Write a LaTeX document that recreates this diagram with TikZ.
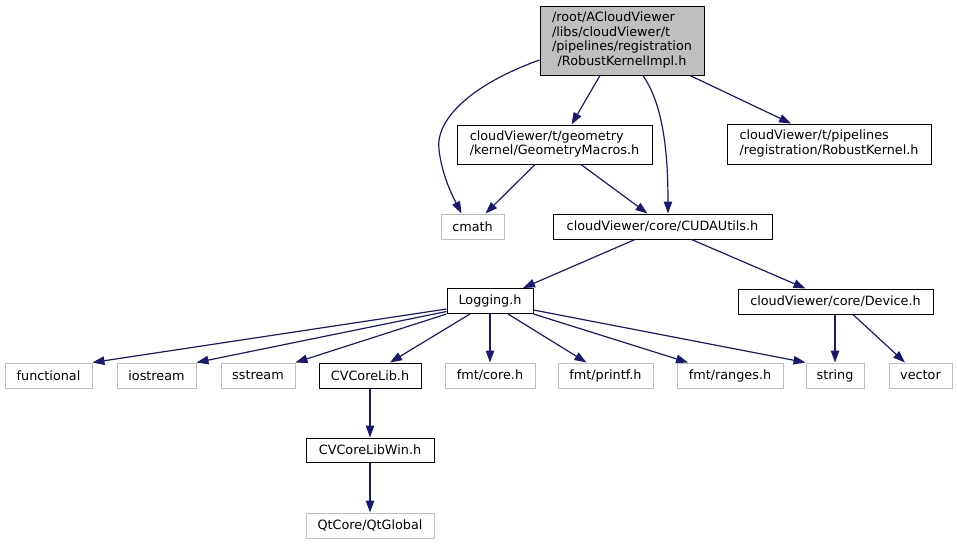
\documentclass[tikz,border=0pt]{standalone}
\usepackage{fontspec}
\setmainfont{DejaVu Sans}
\usetikzlibrary{arrows.meta,calc}
\definecolor{boxgray}{RGB}{191,191,191}
\definecolor{edgeblue}{RGB}{25,25,112}
\tikzset{
  base/.style={rectangle, inner sep=0pt, line width=1pt, font=\fontsize{12.8}{14.7}\selectfont},
  bbox/.style={base, draw=black},
  gbox/.style={base, draw=boxgray},
  rootbox/.style={base, draw=black, fill=boxgray},
  dep/.style={draw=edgeblue, line width=1.2pt, -{Triangle[length=12pt,width=8.5pt]}},
}
\begin{document}
\begin{tikzpicture}[x=1pt,y=-1pt]
\useasboundingbox (0,0) rectangle (957,544);
% nodes
\node[rootbox, minimum width=164pt, minimum height=69pt] (top) at (622,40.5)
  {\begin{tabular}{@{}l@{}}/root/ACloudViewer\\/libs/cloudViewer/t\\/pipelines/registration\\\multicolumn{1}{@{}c@{}}{/RobustKernelImpl.h}\end{tabular}};
\node[bbox, minimum width=195pt, minimum height=39pt] (geo) at (554.5,144.5)
  {\begin{tabular}{@{}l@{}}cloudViewer/t/geometry\\\multicolumn{1}{@{}c@{}}{/kernel/GeometryMacros.h}\end{tabular}};
\node[bbox, minimum width=204pt, minimum height=40pt] (robust) at (829,144)
  {\begin{tabular}{@{}l@{}}cloudViewer/t/pipelines\\\multicolumn{1}{@{}c@{}}{/registration/RobustKernel.h}\end{tabular}};
\node[gbox, minimum width=63pt, minimum height=25pt] (cmath) at (472.5,226.5) {cmath};
\node[bbox, minimum width=219pt, minimum height=25pt] (cuda) at (662.5,226.5) {cloudViewer/core/CUDAUtils.h};
\node[bbox, minimum width=86pt, minimum height=25pt] (logging) at (490,301) {Logging.h};
\node[bbox, minimum width=195pt, minimum height=25pt] (device) at (835.5,301.5) {cloudViewer/core/Device.h};
\node[gbox, minimum width=87pt, minimum height=25pt] (functional) at (48.5,375.5) {functional};
\node[gbox, minimum width=79pt, minimum height=25pt] (iostream) at (156.5,375.5) {iostream};
\node[gbox, minimum width=74pt, minimum height=25pt] (sstream) at (258,375.5) {sstream};
\node[bbox, minimum width=102pt, minimum height=25pt] (cvcore) at (370,375.5) {CVCoreLib.h};
\node[gbox, minimum width=90pt, minimum height=25pt] (fmtcore) at (490,375.5) {fmt/core.h};
\node[gbox, minimum width=95pt, minimum height=25pt] (printf) at (605.5,375.5) {fmt/printf.h};
\node[gbox, minimum width=106pt, minimum height=25pt] (ranges) at (730,375.5) {fmt/ranges.h};
\node[gbox, minimum width=58pt, minimum height=25pt] (string) at (835,375.5) {string};
\node[gbox, minimum width=63pt, minimum height=25pt] (vector) at (920.5,375.5) {vector};
\node[bbox, minimum width=128pt, minimum height=24pt] (cvwin) at (370,450) {CVCoreLibWin.h};
\node[gbox, minimum width=128pt, minimum height=25pt] (qt) at (370,525.5) {QtCore/QtGlobal};
% edges
\draw[dep] ($(top.south)+(-22,0)$) -- ($(geo.north)+(17,0)$);
\draw[dep] ($(top.south)+(68,0)$) -- ($(robust.north)+(-38,0)$);
\draw[dep] ($(top.south)+(21,0)$) .. controls ($(top.south)+(38,25)$) and ($(cuda.north)+(5.5,-74)$) .. ($(cuda.north)+(5.5,0)$);
\draw[dep] ($(top.west)+(0,19.5)$) .. controls (470,85) and (435,120) .. (439,150) .. controls (442,175) and (452,195) .. ($(cmath.north)+(-11,0)$);
\draw[dep] ($(geo.south)+(-19.5,0)$) -- ($(cmath.north)+(13,0)$);
\draw[dep] ($(geo.south)+(26.5,0)$) -- ($(cuda.north)+(-15,0)$);
\draw[dep] ($(cuda.south)+(-27.5,0)$) -- ($(logging.north)+(33,0)$);
\draw[dep] ($(cuda.south)+(29,0)$) -- ($(device.north)+(-30,0)$);
\draw[dep] ($(device.south)+(-0.5,0)$) -- (string.north);
\draw[dep] ($(device.south)+(17.5,0)$) -- ($(vector.north)+(-15.5,0)$);
\draw[dep] ($(logging.west)+(0,8)$) -- (functional.north east);
\draw[dep] ($(logging.west)+(0,10.5)$) -- (iostream.north east);
\draw[dep] (logging.south west) -- (sstream.north east);
\draw[dep] ($(logging.south)+(-20,0)$) -- ($(cvcore.north)+(20,0)$);
\draw[dep] (logging.south) -- (fmtcore.north);
\draw[dep] ($(logging.south)+(18,0)$) -- ($(printf.north)+(-19,0)$);
\draw[dep] (logging.south east) -- ($(ranges.north)+(-42,0)$);
\draw[dep] ($(logging.east)+(0,9)$) -- (string.north west);
\draw[dep] (cvcore) -- (cvwin);
\draw[dep] (cvwin) -- (qt);
\end{tikzpicture}
\end{document}
